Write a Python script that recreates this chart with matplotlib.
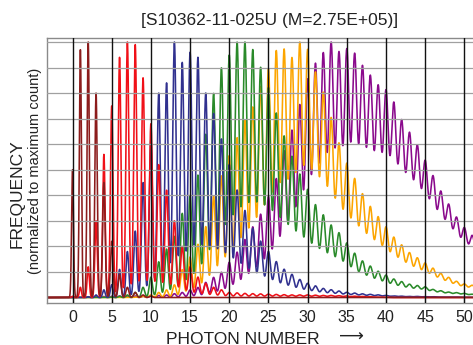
import numpy as np
import matplotlib
matplotlib.use('Agg')
import matplotlib.pyplot as plt

plt.rcParams['font.family'] = ['Liberation Sans', 'DejaVu Sans']

# peak heights (relative) at photon number 0, 1, 2, ...
dark_red = [0.50, 0.97, 1.00, 0.80, 0.45, 0.22, 0.09, 0.04, 0.02, 0.01, 0.005]
red = [0.005, 0.04, 0.12, 0.30, 0.56, 0.75, 0.94, 1.00, 0.99, 0.86,
       0.68, 0.52, 0.42, 0.30, 0.20, 0.12, 0.08, 0.055, 0.04, 0.03,
       0.02, 0.018, 0.016, 0.015, 0.014, 0.013, 0.012, 0.011, 0.010, 0.010,
       0.010, 0.009, 0.008, 0.008, 0.007, 0.006, 0.005, 0.004, 0.003, 0.002,
       0.001]
blue = [0.0, 0.0, 0.003, 0.01, 0.03, 0.05, 0.11, 0.18, 0.26, 0.45,
        0.62, 0.80, 0.84, 1.00, 0.92, 0.96, 0.94, 0.80, 0.72, 0.62,
        0.52, 0.42, 0.34, 0.27, 0.22, 0.18, 0.14, 0.11, 0.09, 0.07,
        0.055, 0.045, 0.035, 0.03, 0.025, 0.02, 0.017, 0.014, 0.012, 0.01,
        0.008, 0.006, 0.005, 0.004, 0.004, 0.003, 0.003, 0.002, 0.002, 0.002,
        0.001, 0.001, 0.001]
green = [0.0, 0.0, 0.0, 0.0, 0.0, 0.002, 0.005, 0.01, 0.02, 0.04,
         0.08, 0.14, 0.19, 0.24, 0.33, 0.40, 0.48, 0.64, 0.80, 0.90,
         0.95, 1.00, 1.00, 0.97, 0.90, 0.82, 0.72, 0.63, 0.55, 0.48,
         0.42, 0.36, 0.32, 0.28, 0.25, 0.21, 0.17, 0.14, 0.12, 0.10,
         0.085, 0.07, 0.06, 0.05, 0.045, 0.04, 0.03, 0.025, 0.02, 0.018,
         0.015, 0.012, 0.01]
orange = [0.0, 0.0, 0.0, 0.0, 0.0, 0.0, 0.0, 0.0, 0.002, 0.005,
          0.01, 0.02, 0.03, 0.05, 0.11, 0.16, 0.21, 0.28, 0.40, 0.48,
          0.56, 0.63, 0.70, 0.75, 0.83, 0.90, 0.97, 0.975, 0.94, 1.00,
          0.97, 0.88, 0.80, 0.70, 0.60, 0.52, 0.46, 0.40, 0.35, 0.31,
          0.27, 0.23, 0.20, 0.17, 0.15, 0.13, 0.11, 0.09, 0.075, 0.06,
          0.05, 0.045, 0.04]
purple = [0.0, 0.0, 0.002, 0.003, 0.004, 0.005, 0.006, 0.006, 0.006, 0.005,
          0.006, 0.008, 0.01, 0.015, 0.02, 0.03, 0.04, 0.06, 0.08, 0.10,
          0.14, 0.18, 0.23, 0.28, 0.33, 0.40, 0.47, 0.58, 0.66, 0.76,
          0.86, 0.92, 0.96, 1.00, 0.96, 0.97, 0.95, 0.90, 0.86, 0.82,
          0.80, 0.75, 0.68, 0.63, 0.58, 0.52, 0.46, 0.40, 0.35, 0.30,
          0.26, 0.23, 0.20]

series = [
    (purple, '#8a0a8c'),
    (orange, '#fca500'),
    (green, '#2a8a2a'),
    (blue, '#31318f'),
    (red, '#f01018'),
    (dark_red, '#8c1c1c'),
]

x = np.linspace(-3.3, 52.5, 9000)


def spectrum(heights):
    # each photon peak drawn as a narrow gaussian that widens with n
    n = np.arange(len(heights))
    h = np.array(heights)
    sig = np.sqrt(0.12 ** 2 + 0.0027 * n)
    y = (h[:, None] * np.exp(-(x[None, :] - n[:, None]) ** 2
                             / (2 * sig[:, None] ** 2))).sum(axis=0)
    return y / y.max()


W, H = 473, 345
fig = plt.figure(figsize=(W / 100, H / 100), dpi=100)
ax = fig.add_axes([47 / W, 42 / H, 433 / W, 265 / H])

for heights, col in series:
    ax.plot(x, spectrum(heights), color=col, lw=1.15, zorder=2)

ax.set_xlim(-3.26, 52)
ax.set_ylim(-0.0215, 1.0157)

for yv in np.arange(0.1, 1.01, 0.1):
    ax.axhline(yv, color='#a0a0a0', lw=0.9, zorder=3)
for xv in range(0, 51, 5):
    ax.axvline(xv, color='#111111', lw=1.0, zorder=3)

ax.set_xticks(range(0, 51, 5))
ax.set_yticks([])
ax.tick_params(axis='x', direction='in', length=4, pad=5,
               labelsize=11.5, colors='#222222')
for sp in ax.spines.values():
    sp.set_color('#8a8a8a')
    sp.set_linewidth(1.0)

fig.text(270 / W, 1 - 20 / H, '[S10362-11-025U (M=2.75E+05)]',
         ha='center', va='center', fontsize=12.5, color='#222222')
fig.text(17 / W, 1 - 194 / H, 'FREQUENCY', rotation=90,
         ha='center', va='center', fontsize=12.5, color='#222222')
fig.text(35 / W, 1 - 171 / H, '(normalized to maximum count)', rotation=90,
         ha='center', va='center', fontsize=10.5, color='#222222')
fig.text(243 / W, 1 - 339 / H, 'PHOTON NUMBER',
         ha='center', va='center', fontsize=12.5, color='#222222')
fig.text(351 / W, 1 - 337 / H, '\u27f6', family=['DejaVu Sans'],
         ha='center', va='center', fontsize=12.5, color='#222222')

fig.savefig('out.png', dpi=100)
